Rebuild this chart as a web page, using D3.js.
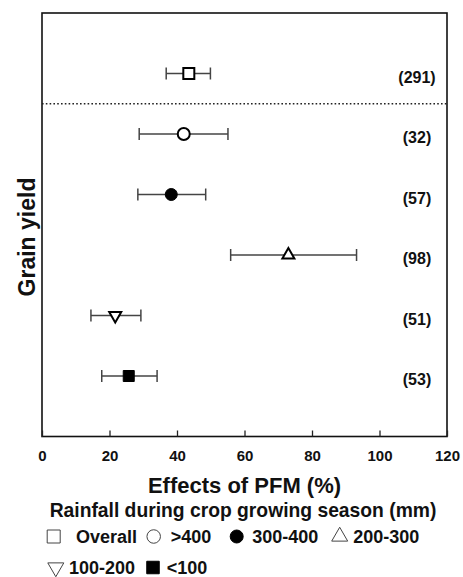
<!DOCTYPE html>
<html>
<head>
<meta charset="utf-8">
<script src="https://cdn.jsdelivr.net/npm/d3@7"></script>
<style>
  html, body { margin: 0; padding: 0; background: #fff; }
  svg { display: block; font-family: Arial, "Liberation Sans", sans-serif; }
</style>
</head>
<body>
<svg id="chart" width="463" height="577"></svg>
<script>
// ---- data ----
const groups  = ["Overall", ">400", "300-400", "200-300", "100-200", "<100"];
const means   = [43.5, 42.0, 38.3, 73.0, 21.7, 25.7];
const lowers  = [36.8, 28.8, 28.4, 55.9, 14.5, 17.7];
const uppers  = [49.9, 55.1, 48.5, 93.2, 29.3, 34.1];
const counts  = ["(291)", "(32)", "(57)", "(98)", "(51)", "(53)"];
const symbols = ["square-open", "circle-open", "circle-filled", "triangle-up-open", "triangle-down-open", "square-filled"];
const xTicks  = [0, 20, 40, 60, 80, 100, 120];
const xTitle  = "Effects of PFM (%)";
const yTitle  = "Grain yield";
const legendTitle = "Rainfall during crop growing season (mm)";

// ---- layout ----
const svg = d3.select("#chart");
const L = 42, R = 447, T = 13, B = 436.5;
const x = d3.scaleLinear().domain([0, 120]).range([L, R]);
const y = d3.scaleLinear().domain([-1, 6]).range([T, B]);

function symPath(type, s) {
  if (type.startsWith("square")) return d3.symbol(d3.symbolSquare, s * s)();
  if (type.startsWith("circle")) return d3.symbol(d3.symbolCircle, Math.PI * s * s / 4)();
  return d3.symbol(d3.symbolTriangle, Math.sqrt(3) / 4 * s * s)();
}

// frame
svg.append("rect").attr("x", L).attr("y", T).attr("width", R - L).attr("height", B - T)
  .attr("fill", "none").attr("stroke", "#111").attr("stroke-width", 1.6);

// x axis (ticks pointing inward)
const ax = svg.append("g").attr("transform", `translate(0,${B})`)
  .call(d3.axisBottom(x).tickValues(xTicks).tickSize(-6).tickPadding(14).tickFormat(d3.format("d")));
ax.select(".domain").remove();
ax.selectAll(".tick line").attr("stroke", "#222").attr("stroke-width", 1.3);
ax.selectAll(".tick text").attr("fill", "#111").style("font-size", "15px").style("font-weight", "bold");

// dotted separator between overall and rainfall groups
svg.append("line").attr("x1", L).attr("x2", R).attr("y1", y(0.5)).attr("y2", y(0.5))
  .attr("stroke", "#222").attr("stroke-width", 1.5).attr("stroke-dasharray", "1.6,2.2");

// error bars + markers
const rows = svg.append("g").selectAll("g").data(groups).join("g")
  .attr("transform", (d, i) => `translate(0,${y(i)})`);
rows.append("line").attr("x1", (d, i) => x(lowers[i])).attr("x2", (d, i) => x(uppers[i]))
  .attr("stroke", "#444").attr("stroke-width", 1.5);
rows.append("line").attr("x1", (d, i) => x(lowers[i])).attr("x2", (d, i) => x(lowers[i]))
  .attr("y1", -6).attr("y2", 6).attr("stroke", "#444").attr("stroke-width", 1.5);
rows.append("line").attr("x1", (d, i) => x(uppers[i])).attr("x2", (d, i) => x(uppers[i]))
  .attr("y1", -6).attr("y2", 6).attr("stroke", "#444").attr("stroke-width", 1.5);
rows.append("path")
  .attr("d", (d, i) => {
    const t = symbols[i];
    return symPath(t, t.startsWith("triangle") ? 12 : (t.startsWith("square") ? 11 : 12));
  })
  .attr("transform", (d, i) => {
    const t = symbols[i];
    let tr = `translate(${x(means[i])},0)`;
    if (t === "triangle-down-open") tr += " rotate(180)";
    return tr;
  })
  .attr("fill", (d, i) => symbols[i].endsWith("filled") ? "#000" : "#fff")
  .attr("stroke", "#000").attr("stroke-width", (d, i) => symbols[i].endsWith("filled") ? 1 : 2);
rows.append("text").attr("x", 417).attr("y", 9).attr("text-anchor", "middle")
  .style("font-size", "16px").style("font-weight", "bold").attr("fill", "#111")
  .text((d, i) => counts[i]);

// axis titles
svg.append("text").attr("x", (L + R) / 2).attr("y", 493).attr("text-anchor", "middle")
  .style("font-size", "22px").style("font-weight", "bold").attr("fill", "#111").text(xTitle);
svg.append("text").attr("transform", `translate(35,237) rotate(-90)`).attr("text-anchor", "middle")
  .style("font-size", "23px").style("font-weight", "bold").attr("fill", "#111").text(yTitle);

// legend
svg.append("text").attr("x", 243).attr("y", 517).attr("text-anchor", "middle")
  .style("font-size", "19.3px").style("font-weight", "bold").attr("fill", "#111").text(legendTitle);

const legendPos = [
  { sx: 53.7, tx: 76,    y: 543 },
  { sx: 153.7, tx: 170.7, y: 543 },
  { sx: 236.7, tx: 252.3, y: 543 },
  { sx: 339.7, tx: 353.3, y: 543 },
  { sx: 55.8, tx: 69,    y: 574 },
  { sx: 153,  tx: 166.7, y: 574 }
];
const lg = svg.append("g").selectAll("g").data(groups).join("g");
lg.append("path")
  .attr("d", (d, i) => {
    const t = symbols[i];
    if (t.startsWith("triangle")) return symPath(t, 16);
    if (t.startsWith("square")) return symPath(t, t.endsWith("filled") ? 12.5 : 13);
    return symPath(t, t.endsWith("filled") ? 13 : 13.5);
  })
  .attr("transform", (d, i) => {
    const p = legendPos[i];
    let tr = `translate(${p.sx},${p.y - 6.5})`;
    if (symbols[i] === "triangle-down-open") tr += " rotate(180)";
    return tr;
  })
  .attr("fill", (d, i) => symbols[i].endsWith("filled") ? "#000" : "#fff")
  .attr("stroke", (d, i) => symbols[i].endsWith("filled") ? "#000" : "#444")
  .attr("stroke-width", 1);
lg.append("text").attr("x", (d, i) => legendPos[i].tx).attr("y", (d, i) => legendPos[i].y)
  .style("font-size", "18px").style("font-weight", "bold").attr("fill", "#111")
  .text(d => d);
</script>
</body>
</html>
